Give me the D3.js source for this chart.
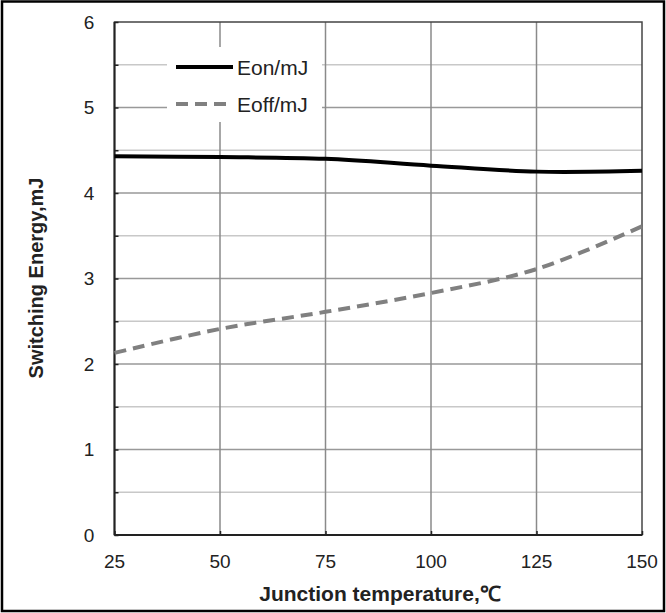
<!DOCTYPE html>
<html><head><meta charset="utf-8">
<script src="https://cdn.jsdelivr.net/npm/d3@7/dist/d3.min.js"></script>
<style>body{margin:0;background:#fff}svg{display:block}text{font-family:"Liberation Sans",Arial,sans-serif}</style>
</head><body><svg id="c" width="666" height="613"></svg>
<script>
const temps = [25, 50, 75, 100, 125, 150];
const eon = [4.43, 4.42, 4.40, 4.32, 4.25, 4.26];
const eoff = [2.13, 2.41, 2.61, 2.83, 3.11, 3.61];
const xTicks = [25, 50, 75, 100, 125, 150];
const yTicks = [0, 1, 2, 3, 4, 5, 6];
const yMinor = [0.5, 1.5, 2.5, 3.5, 4.5, 5.5];
const seriesNames = ["Eon/mJ", "Eoff/mJ"];

const svg = d3.select("#c");
const L = 114.5, R = 642, T = 22, B = 535;
const x = d3.scaleLinear().domain([25, 150]).range([L, R]);
const y = d3.scaleLinear().domain([0, 6]).range([B, T]);

// outer border
svg.append("rect").attr("x", 2).attr("y", 1.5).attr("width", 662).attr("height", 609.5)
  .attr("fill", "none").attr("stroke", "#000").attr("stroke-width", 2.5);

// minor horizontal gridlines
svg.append("g").selectAll("line").data(yMinor).join("line")
  .attr("x1", L).attr("x2", R).attr("y1", d => y(d)).attr("y2", d => y(d))
  .attr("stroke", "#c8c8c8").attr("stroke-width", 1.5);
// major horizontal gridlines
svg.append("g").selectAll("line").data(yTicks.slice(1, -1)).join("line")
  .attr("x1", L).attr("x2", R).attr("y1", d => y(d)).attr("y2", d => y(d))
  .attr("stroke", "#999").attr("stroke-width", 1.5);
// vertical gridlines
svg.append("g").selectAll("line").data(xTicks.slice(1, -1)).join("line")
  .attr("x1", d => x(d)).attr("x2", d => x(d)).attr("y1", T).attr("y2", B)
  .attr("stroke", "#8a8a8a").attr("stroke-width", 1.5);

// legend background
svg.append("rect").attr("x", 167).attr("y", 47).attr("width", 155).attr("height", 75).attr("fill", "#fff");

// frame
svg.append("rect").attr("x", L).attr("y", T).attr("width", R - L).attr("height", B - T)
  .attr("fill", "none").attr("stroke", "#444").attr("stroke-width", 1.5);
svg.append("line").attr("x1", L).attr("x2", L).attr("y1", T).attr("y2", B).attr("stroke", "#222").attr("stroke-width", 2);
svg.append("line").attr("x1", L).attr("x2", R).attr("y1", B).attr("y2", B).attr("stroke", "#222").attr("stroke-width", 2);

// y axis
const ya = svg.append("g").attr("transform", `translate(${L},0)`)
  .call(d3.axisRight(y).tickValues(yTicks.concat(yMinor)).tickSize(4).tickFormat(""));
ya.select(".domain").remove();
ya.selectAll("line").attr("stroke", "#222").attr("stroke-width", 1.5);
svg.append("g").selectAll("text").data(yTicks).join("text")
  .attr("x", 89).attr("y", d => y(d) + 6.5).attr("text-anchor", "middle")
  .attr("font-size", 19).attr("fill", "#222").text(d => d);

// x axis
const xa = svg.append("g").attr("transform", `translate(0,${B})`)
  .call(d3.axisTop(x).tickValues(xTicks).tickSize(4).tickFormat(""));
xa.select(".domain").remove();
xa.selectAll("line").attr("stroke", "#222").attr("stroke-width", 1.5);
svg.append("g").selectAll("text").data(xTicks).join("text")
  .attr("x", d => x(d)).attr("y", 568).attr("text-anchor", "middle")
  .attr("font-size", 19).attr("fill", "#222").text(d => d);

// titles
svg.append("text").attr("x", 380).attr("y", 601).attr("text-anchor", "middle")
  .attr("font-size", 21).attr("font-weight", "bold").attr("fill", "#222").text("Junction temperature,℃");
svg.append("text").attr("transform", "translate(43,278) rotate(-90)").attr("text-anchor", "middle")
  .attr("font-size", 20).attr("font-weight", "bold").attr("fill", "#222").text("Switching Energy,mJ");

// lines
const line = d3.line().x((d, i) => x(temps[i])).y(d => y(d)).curve(d3.curveCatmullRom.alpha(0.5));
svg.append("path").attr("d", line(eoff)).attr("fill", "none").attr("stroke", "#808080")
  .attr("stroke-width", 4).attr("stroke-dasharray", "12,7");
svg.append("path").attr("d", line(eon)).attr("fill", "none").attr("stroke", "#000")
  .attr("stroke-width", 4);

// legend
const lg = svg.append("g");
lg.append("line").attr("x1", 176).attr("x2", 233).attr("y1", 67).attr("y2", 67)
  .attr("stroke", "#000").attr("stroke-width", 4);
lg.append("line").attr("x1", 176).attr("x2", 233).attr("y1", 104).attr("y2", 104)
  .attr("stroke", "#808080").attr("stroke-width", 4).attr("stroke-dasharray", "12,7");
lg.append("text").attr("x", 237).attr("y", 75).attr("font-size", 21).attr("fill", "#222").text(seriesNames[0]);
lg.append("text").attr("x", 237).attr("y", 112).attr("font-size", 21).attr("fill", "#222").text(seriesNames[1]);
</script></body></html>
